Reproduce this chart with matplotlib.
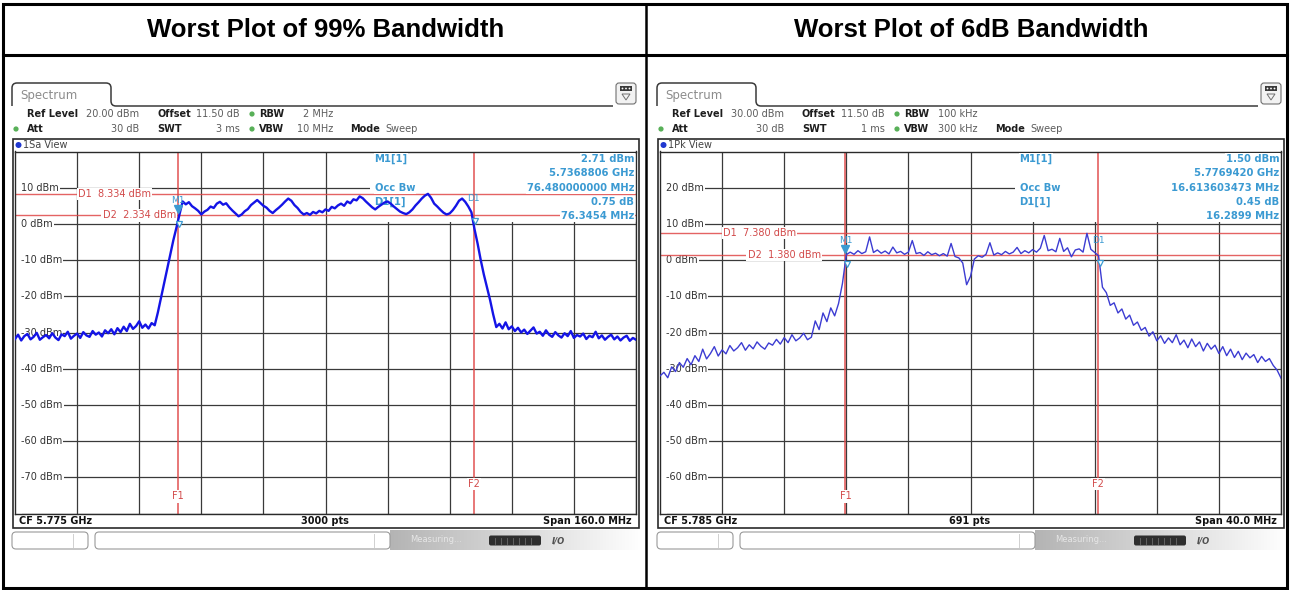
import numpy as np
import matplotlib.pyplot as plt
from matplotlib.patches import Rectangle, FancyBboxPatch, Circle, PathPatch, Polygon
from matplotlib.path import Path
from matplotlib.colors import LinearSegmentedColormap
import matplotlib.transforms as mtransforms

plt.rcParams['font.family'] = ['DejaVu Sans']

W, H = 1290, 590

titles = ["Worst Plot of 99% Bandwidth", "Worst Plot of 6dB Bandwidth"]

# 99% bandwidth sweep, CF 5.775 GHz / span 160 MHz, one level (dBm) every 0.8 MHz
obw_floor_left = [-31.8, -30.6, -32.2, -31.0, -30.4, -31.9, -31.2, -30.1, -32.0, -31.3,
                  -30.7, -31.6, -30.2, -31.4, -32.1, -30.5, -31.0, -29.8, -31.7, -30.9,
                  -30.3, -31.5, -29.9, -30.8, -31.2, -29.6, -30.6, -30.0, -31.1, -29.4,
                  -30.2, -29.1, -30.5, -28.8, -29.9, -28.4, -29.6, -27.6, -29.0, -28.2,
                  -26.9, -28.7, -27.8, -28.9, -27.4]
obw_rise = [-28.0, -24.5, -20.5, -16.5, -12.5, -8.5, -4.5, -1.0, 2.7]
obw_band = [6.2, 5.4, 6.0, 4.9, 4.3, 3.6, 2.6, 3.4, 3.9, 4.8,
            4.4, 5.6, 6.1, 5.3, 5.7, 4.6, 3.7, 2.9, 2.1, 2.6,
            3.5, 4.1, 5.2, 5.9, 6.6, 5.8, 5.0, 4.5, 3.6, 3.0,
            3.8, 4.5, 5.3, 6.2, 7.0, 6.4, 5.2, 4.4, 3.3, 2.6,
            3.0, 2.5, 3.3, 2.9, 3.6, 3.2, 4.0, 3.6, 4.7, 4.3,
            5.1, 5.6, 5.0, 6.2, 5.7, 6.8, 6.5, 7.6, 7.1, 6.2,
            5.4, 4.6, 4.0, 4.7, 5.3, 5.9, 6.2, 5.6, 4.8, 4.1,
            3.4, 3.0, 2.7, 3.2, 4.0, 5.1, 6.0, 7.0, 7.8, 8.3,
            7.2, 5.6, 4.8, 3.9, 3.1, 2.6, 2.9, 3.8, 5.0, 6.4,
            7.0, 6.1, 4.8]
obw_fall = [3.2, -1.5, -5.5, -10.0, -14.0, -17.5, -21.0, -25.0, -28.5]
obw_floor_right = [-27.6, -28.9, -27.2, -29.1, -28.3, -29.6, -28.7, -30.0, -29.2, -30.4,
                   -29.5, -28.6, -30.3, -29.8, -30.9, -29.4, -30.6, -31.2, -29.9, -30.8,
                   -31.4, -30.2, -31.0, -29.6, -31.5, -30.7, -31.1, -30.3, -31.8, -30.9,
                   -31.3, -29.8, -31.6, -30.8, -32.0, -31.2, -30.6, -31.9, -31.1, -32.2,
                   -31.4, -30.9, -32.3, -31.5, -32.0]

# 6 dB bandwidth sweep, CF 5.785 GHz / span 40 MHz, one level (dBm) every 0.25 MHz
sixdb_lower = [-32.0, -31.0, -32.5, -29.5, -30.8, -28.3, -29.6, -27.2, -28.9, -26.4,
               -28.0, -24.6, -27.3, -25.8, -23.9, -26.5, -24.8, -25.9, -23.6, -25.1,
               -24.2, -22.8, -24.9, -23.4, -24.5, -22.6, -23.8, -24.6, -22.9, -23.5,
               -21.9, -23.2, -21.4, -22.8, -20.6, -22.3, -21.5, -20.2, -22.0, -21.3,
               -16.8, -19.2, -14.6, -17.0, -13.2, -15.4, -12.0, -6.5]
sixdb_band = [1.5, 2.2, 1.6, 2.6, 1.8, 2.3, 6.4, 2.1, 2.8, 1.9,
              2.5, 1.7, 3.6, 2.0, 2.4, 1.6, 2.2, 5.4, 1.8, 2.1,
              1.3, 2.3, 1.5, 1.9, 1.2, 1.8, 1.1, 4.6, 1.0, 0.6,
              -0.8, -6.8, -4.5, 0.3, 1.2, 0.8, 1.6, 4.8, 1.4, 2.0,
              1.5, 2.4, 1.7, 2.2, 3.5, 1.8, 2.6, 2.0, 2.9, 2.2,
              3.3, 6.8, 2.6, 3.0, 2.3, 6.0, 2.4, 3.4, 0.9, 2.8,
              3.1, 2.2, 7.4, 3.0, 2.1]
sixdb_upper = [1.2, -7.5, -9.0, -12.5, -11.8, -14.6, -13.5, -16.3, -15.2, -18.0,
               -17.1, -19.4, -18.6, -21.0, -19.8, -22.3, -20.9, -23.0, -21.5, -22.8,
               -20.6, -23.4, -22.1, -24.2, -21.8, -23.9, -22.6, -25.1, -23.0, -24.6,
               -23.5, -25.8, -23.9, -26.4, -24.6, -26.9, -25.2, -27.5, -25.7, -27.0,
               -26.1, -28.3, -26.6, -28.0, -27.2, -29.1, -30.4, -32.6]

traces = [obw_floor_left + obw_rise + obw_band + obw_fall + obw_floor_right,
          sixdb_lower + sixdb_band + sixdb_upper]

# instrument settings shown in the header of each screen
ref_level = [20.0, 30.0]
offset_db = [11.50, 11.50]
att_db = [30, 30]
swt = ["3 ms", "1 ms"]
rbw = ["2 MHz", "100 kHz"]
vbw = ["10 MHz", "300 kHz"]
view_name = ["1Sa View", "1Pk View"]
center_ghz = [5.775, 5.785]
span_mhz = [160.0, 40.0]
sweep_pts = [3000, 691]

# marker table
m1_level = [2.71, 1.50]
m1_freq_ghz = [5.7368806, 5.7769420]
occ_bw_mhz = [76.480000000, 16.613603473]
d1_delta_db = [0.75, 0.45]
d1_delta_mhz = [76.3454, 16.2899]
d1_line = [8.334, 7.380]
d2_line = [2.334, 1.380]

trace_color = ['#1414e6', '#3c3cd2']
trace_lw = [1.7, 1.0]
mk_col = '#3b9ad2'
red = '#e04848'

fig = plt.figure(figsize=(W / 100, H / 100), dpi=100)
bg = fig.add_axes([0, 0, 1, 1])
bg.set_xlim(0, W)
bg.set_ylim(H, 0)
bg.axis('off')

# table frame
bg.add_patch(Rectangle((2.5, 3.5), 1284, 584, fill=False, ec='black', lw=2.2))
bg.plot([2.5, 1286.5], [55, 55], color='black', lw=2.2)
bg.plot([646, 646], [3.5, 587.5], color='black', lw=1.8)
for k, t in enumerate(titles):
    bg.text(326 + 645 * k, 30, t, fontsize=18.5, fontweight='bold',
            family=['Liberation Sans', 'DejaVu Sans'], ha='center', va='center')

fade = LinearSegmentedColormap.from_list('fade', ['#b4b4b4', '#d8d8d8', '#ffffff'])


def draw_screen(k):
    x0 = 645 * k
    # "Spectrum" tab and the line running to the menu icon
    M, L, C = Path.MOVETO, Path.LINETO, Path.CURVE3
    verts = [(x0 + 12, 106), (x0 + 12, 88), (x0 + 12, 83), (x0 + 17, 83),
             (x0 + 106, 83), (x0 + 111, 83), (x0 + 111, 88), (x0 + 111, 101),
             (x0 + 111, 106), (x0 + 116, 106), (x0 + 613, 106)]
    codes = [M, L, C, C, L, C, C, L, C, C, L]
    bg.add_patch(PathPatch(Path(verts, codes), fill=False, ec='#3a3a3a', lw=1.1))
    bg.text(x0 + 20, 95, "Spectrum", fontsize=8.5, color='#8c8c8c', va='center')

    bg.add_patch(FancyBboxPatch((x0 + 616, 83), 20, 21, boxstyle='round,pad=0,rounding_size=3',
                                fc='#f2f2f2', ec='#707070', lw=0.8))
    bg.add_patch(Rectangle((x0 + 620, 86), 12, 5, fc='#3a3a3a', ec='none'))
    for dx in (622.5, 626, 629.5):
        bg.add_patch(Circle((x0 + dx, 88.5), 0.9, fc='white', ec='none'))
    bg.add_patch(Polygon([(x0 + 622, 94), (x0 + 630, 94), (x0 + 626, 100)], closed=True,
                         fill=False, ec='#707070', lw=0.7))

    def hdr(x, y, s, bold=False, ha='left'):
        bg.text(x0 + x, y, s, fontsize=7, ha=ha, va='center',
                fontweight='bold' if bold else 'normal',
                color='#1e1e1e' if bold else '#5c5c5c')

    hdr(27, 114, "Ref Level", True)
    hdr(139, 114, f"{ref_level[k]:.2f} dBm", ha='right')
    hdr(157, 114, "Offset", True)
    hdr(240, 114, f"{offset_db[k]:.2f} dB", ha='right')
    hdr(259, 114, "RBW", True)
    hdr(333, 114, rbw[k], ha='right')
    hdr(27, 129, "Att", True)
    hdr(139, 129, f"{att_db[k]} dB", ha='right')
    hdr(157, 129, "SWT", True)
    hdr(240, 129, swt[k], ha='right')
    hdr(259, 129, "VBW", True)
    hdr(333, 129, vbw[k], ha='right')
    hdr(350, 129, "Mode", True)
    hdr(385, 129, "Sweep")
    for (cx, cy) in [(252, 114), (16, 129), (252, 129)]:
        bg.add_patch(Circle((x0 + cx, cy), 2.6, fc='#58b058', ec='none'))

    # window frame with title row and status row
    bg.add_patch(Rectangle((x0 + 13, 139), 626, 389, fill=False, ec='#2a2a2a', lw=1.2))
    bg.add_patch(Circle((x0 + 18.5, 145), 3.0, fc='#2038d0', ec='none'))
    bg.text(x0 + 23, 145, view_name[k], fontsize=7, color='#444444', va='center')
    bg.text(x0 + 19, 521, f"CF {center_ghz[k]:.3f} GHz", fontsize=7, fontweight='bold',
            color='#111111', va='center')
    bg.text(x0 + 325, 521, f"{sweep_pts[k]} pts", fontsize=7, fontweight='bold',
            color='#111111', va='center', ha='center')
    bg.text(x0 + 632, 521, f"Span {span_mhz[k]:.1f} MHz", fontsize=7, fontweight='bold',
            color='#111111', va='center', ha='right')

    # soft-key bar
    bg.imshow(np.linspace(0, 1, 256).reshape(1, -1), cmap=fade, aspect='auto',
              extent=(x0 + 390, x0 + 642, 550, 530), zorder=0.5)
    bg.add_patch(FancyBboxPatch((x0 + 12, 532), 76, 17, boxstyle='round,pad=0,rounding_size=4',
                                fc='white', ec='#9a9a9a', lw=0.8, zorder=1))
    bg.plot([x0 + 73, x0 + 73], [534, 547], color='#d0d0d0', lw=0.7, zorder=1.1)
    bg.add_patch(FancyBboxPatch((x0 + 95, 532), 295, 17, boxstyle='round,pad=0,rounding_size=4',
                                fc='white', ec='#9a9a9a', lw=0.8, zorder=1))
    bg.plot([x0 + 374, x0 + 374], [534, 547], color='#d0d0d0', lw=0.7, zorder=1.1)
    bg.text(x0 + 410, 540, "Measuring...", fontsize=6, color='#e6e6e6', va='center', zorder=1)
    bg.add_patch(FancyBboxPatch((x0 + 489, 535.5), 52, 10, boxstyle='round,pad=0,rounding_size=2',
                                fc='#2e2e2e', ec='none', zorder=1))
    for sx in range(495, 537, 6):
        bg.plot([x0 + sx, x0 + sx], [537.5, 543.5], color='#6a6a6a', lw=0.6, zorder=1.1)
    bg.text(x0 + 552, 540.5, "I/O", fontsize=6, color='#505050', style='italic',
            fontweight='bold', va='center', zorder=1)


def draw_trace(k):
    x0 = 645 * k
    ax = fig.add_axes([(x0 + 15) / W, 1 - 513.5 / H, 621 / W, 362 / H])
    ref = ref_level[k]
    half = span_mhz[k] / 2
    ax.set_xlim(-half, half)
    ax.set_ylim(ref - 100, ref)
    ax.set_xticks(np.linspace(-half, half, 11))
    ax.set_yticks(np.arange(ref - 100, ref + 1, 10))
    ax.set_axisbelow(True)
    ax.grid(True, color='#3a3a3a', lw=0.9)
    ax.tick_params(length=0, labelbottom=False, labelleft=False)
    for s in ax.spines.values():
        s.set_color('#2a2a2a')
        s.set_linewidth(1.0)

    # level labels sitting on the grid lines (grid starts after the label)
    ax.add_patch(Rectangle((0, 0), 0.012, 1, transform=ax.transAxes,
                           fc='white', ec='none', zorder=1.6))
    for lev in np.arange(ref - 10, ref - 91, -10):
        ax.text(0.009, lev, f"{lev:.0f} dBm", transform=ax.get_yaxis_transform(),
                fontsize=7, color='#333333', va='center', ha='left', zorder=1.7,
                bbox=dict(fc='white', ec='none', pad=1.2))

    # marker table area
    ax.add_patch(Rectangle((0.572, 0.805), 0.428, 0.195, transform=ax.transAxes,
                           fc='white', ec='none', zorder=1.6))

    f1 = (m1_freq_ghz[k] - center_ghz[k]) * 1000
    f2 = f1 + d1_delta_mhz[k]
    for lev in (d1_line[k], d2_line[k]):
        ax.axhline(lev, color=red, lw=1.0, alpha=0.85, zorder=2)
    for f in (f1, f2):
        ax.axvline(f, color=red, lw=1.3, alpha=0.8, zorder=2)
    box = dict(fc='white', ec='none', pad=0.8)
    ax.text(0.101, d1_line[k], f"D1  {d1_line[k]:.3f} dBm", transform=ax.get_yaxis_transform(),
            fontsize=7, color='#d24a4a', va='center', zorder=2.5, bbox=box)
    ax.text(0.141, d2_line[k], f"D2  {d2_line[k]:.3f} dBm", transform=ax.get_yaxis_transform(),
            fontsize=7, color='#d24a4a', va='center', zorder=2.5, bbox=box)
    ax.text(f1, 0.047, "F1", transform=ax.get_xaxis_transform(), fontsize=7, color='#d24a4a',
            ha='center', va='center', zorder=2.5, bbox=box)
    ax.text(f2, 0.082, "F2", transform=ax.get_xaxis_transform(), fontsize=7, color='#d24a4a',
            ha='center', va='center', zorder=2.5, bbox=box)

    # marker readout
    rows = [0.979, 0.941, 0.899, 0.860, 0.822]
    kw = dict(transform=ax.transAxes, fontsize=7.2, fontweight='bold', color=mk_col,
              va='center', zorder=3, bbox=dict(fc='white', ec='none', pad=0.6))
    ax.text(0.579, rows[0], "M1[1]", **kw)
    ax.text(0.579, rows[2], "Occ Bw", **kw)
    ax.text(0.579, rows[3], "D1[1]", **kw)
    ax.text(0.997, rows[0], f"{m1_level[k]:.2f} dBm", ha='right', **kw)
    ax.text(0.997, rows[1], f"{m1_freq_ghz[k]:.7f} GHz", ha='right', **kw)
    ax.text(0.997, rows[2], f"{occ_bw_mhz[k]:.9f} MHz", ha='right', **kw)
    ax.text(0.997, rows[3], f"{d1_delta_db[k]:.2f} dB", ha='right', **kw)
    ax.text(0.997, rows[4], f"{d1_delta_mhz[k]:.4f} MHz", ha='right', **kw)

    y = traces[k]
    freqs = np.linspace(-half, half, len(y))
    ax.plot(freqs, y, color=trace_color[k], lw=trace_lw[k], zorder=4)

    # markers on the trace
    d1_level = m1_level[k] + d1_delta_db[k]
    up = mtransforms.offset_copy(ax.transData, fig=fig, x=0, y=4, units='points')
    down = mtransforms.offset_copy(ax.transData, fig=fig, x=1, y=-7, units='points')
    ax.plot([f1], [m1_level[k]], marker='v', ms=5.5, color=mk_col, transform=up, zorder=5,
            clip_on=False)
    ax.plot([f1, f2], [m1_level[k], d1_level], marker='v', ms=5, mfc='white', mec=mk_col,
            mew=0.9, ls='none', transform=down, zorder=5)
    ax.annotate("M1", (f1, m1_level[k]), xytext=(0, 10), textcoords='offset points',
                fontsize=6.5, color=mk_col, ha='center', va='center', zorder=5)
    ax.annotate("D1", (f2, d1_level), xytext=(0, 9), textcoords='offset points',
                fontsize=6.5, color=mk_col, ha='center', va='center', zorder=5)


for k in range(2):
    draw_screen(k)
    draw_trace(k)

bg.set_xlim(0, W)
bg.set_ylim(H, 0)

fig.savefig('out.png', dpi=100)
